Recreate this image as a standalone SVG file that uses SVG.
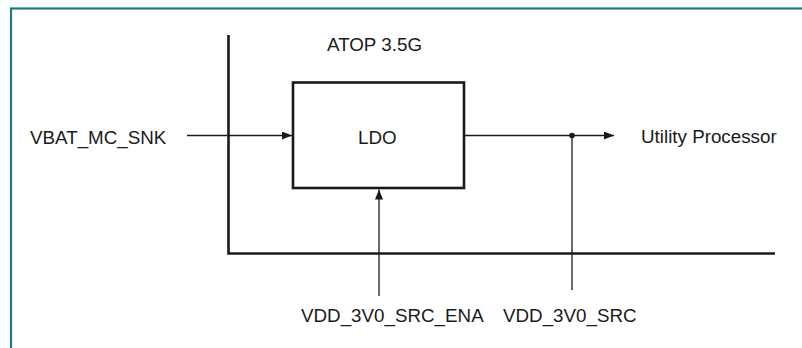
<svg xmlns="http://www.w3.org/2000/svg" width="802" height="348" viewBox="0 0 802 348">
<style>
.t{font-family:"Liberation Sans",Arial,sans-serif;font-size:18.8px;fill:#1a1a1a}
.thick{stroke:#1a1a1a;stroke-width:2.6;fill:none}
.thin{stroke:#1a1a1a;stroke-width:1.3;fill:none}
</style>
<defs>
<marker id="arr" viewBox="0 0 10 8" refX="10" refY="4" markerWidth="10" markerHeight="8" markerUnits="userSpaceOnUse" orient="auto">
<path d="M0,0 L10,4 L0,8 z" fill="#1a1a1a"/>
</marker>
</defs>
<rect width="802" height="348" fill="#ffffff"/>
<rect x="11" y="8.5" width="800" height="350" fill="none" stroke="#1b7a8c" stroke-width="2.2"/>
<g id="frame">
<path class="thick" d="M228.5,35 V253.5 H775"/>
<text class="t" x="327" y="50.5">ATOP 3.5G</text>
</g>
<g id="ldo">
<rect class="thick" x="293" y="82.5" width="171" height="105.5"/>
<text class="t" x="358" y="143.5">LDO</text>
</g>
<g id="vbat">
<text class="t" x="30" y="144">VBAT_MC_SNK</text>
</g>
<g id="utility">
<text class="t" x="641" y="143">Utility Processor</text>
</g>
<g id="ena">
<text class="t" x="301" y="322">VDD_3V0_SRC_ENA</text>
</g>
<g id="src">
<text class="t" x="503" y="322">VDD_3V0_SRC</text>
</g>
<g id="connectors">
<line class="thin" x1="187" y1="135.5" x2="292" y2="135.5" marker-end="url(#arr)"/>
<line class="thin" x1="465" y1="135.5" x2="614" y2="135.5" marker-end="url(#arr)"/>
<circle cx="572" cy="135.5" r="2.8" fill="#1a1a1a"/>
<line class="thin" x1="572" y1="135.5" x2="572" y2="290"/>
<line class="thin" x1="379" y1="296" x2="379" y2="189.5" marker-end="url(#arr)"/>
</g>
</svg>
